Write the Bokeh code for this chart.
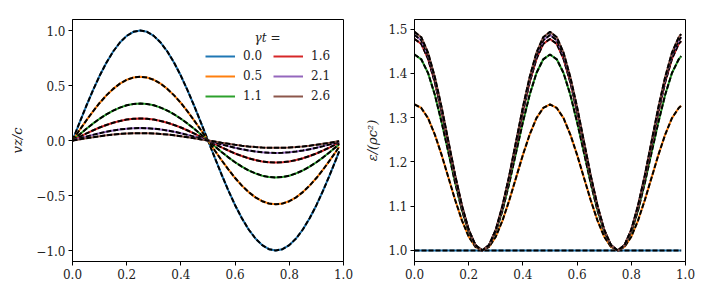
from bokeh.plotting import figure
from bokeh.layouts import row
from bokeh.models import Range1d, FixedTicker, CustomJSTickFormatter, Legend, LegendItem, Label
from bokeh.embed import file_html
from bokeh.resources import INLINE

# ---------------- data ----------------
x = [0.0, 0.025, 0.05, 0.075, 0.1, 0.125, 0.15, 0.175, 0.2, 0.225,
     0.25, 0.275, 0.3, 0.325, 0.35, 0.375, 0.4, 0.425, 0.45, 0.475,
     0.5, 0.525, 0.55, 0.575, 0.6, 0.625, 0.65, 0.675, 0.7, 0.725,
     0.75, 0.775, 0.8, 0.825, 0.85, 0.875, 0.9, 0.925, 0.95, 0.975, 0.984]

gamma_t = ["0.0", "0.5", "1.1", "1.6", "2.1", "2.6"]
colors = ["#1f77b4", "#ff7f0e", "#2ca02c", "#d62728", "#9467bd", "#8c564b"]

v_00 = [0.0, 0.156, 0.309, 0.454, 0.588, 0.707, 0.809, 0.891, 0.951, 0.988,
        1.0, 0.988, 0.951, 0.891, 0.809, 0.707, 0.588, 0.454, 0.309, 0.156,
        0.0, -0.156, -0.309, -0.454, -0.588, -0.707, -0.809, -0.891, -0.951, -0.988,
        -1.0, -0.988, -0.951, -0.891, -0.809, -0.707, -0.588, -0.454, -0.309, -0.156, -0.099]
v_05 = [0.0, 0.091, 0.179, 0.263, 0.341, 0.410, 0.469, 0.517, 0.552, 0.573,
        0.580, 0.573, 0.552, 0.517, 0.469, 0.410, 0.341, 0.263, 0.179, 0.091,
        0.0, -0.091, -0.179, -0.263, -0.341, -0.410, -0.469, -0.517, -0.552, -0.573,
        -0.580, -0.573, -0.552, -0.517, -0.469, -0.410, -0.341, -0.263, -0.179, -0.091, -0.057]
v_11 = [0.0, 0.053, 0.104, 0.153, 0.198, 0.238, 0.272, 0.299, 0.320, 0.332,
        0.336, 0.332, 0.320, 0.299, 0.272, 0.238, 0.198, 0.153, 0.104, 0.053,
        0.0, -0.053, -0.104, -0.153, -0.198, -0.238, -0.272, -0.299, -0.320, -0.332,
        -0.336, -0.332, -0.320, -0.299, -0.272, -0.238, -0.198, -0.153, -0.104, -0.053, -0.033]
v_16 = [0.0, 0.031, 0.062, 0.091, 0.118, 0.141, 0.162, 0.178, 0.190, 0.198,
        0.200, 0.198, 0.190, 0.178, 0.162, 0.141, 0.118, 0.091, 0.062, 0.031,
        0.0, -0.031, -0.062, -0.091, -0.118, -0.141, -0.162, -0.178, -0.190, -0.198,
        -0.200, -0.198, -0.190, -0.178, -0.162, -0.141, -0.118, -0.091, -0.062, -0.031, -0.020]
v_21 = [0.0, 0.018, 0.035, 0.051, 0.066, 0.080, 0.091, 0.101, 0.107, 0.112,
        0.113, 0.112, 0.107, 0.101, 0.091, 0.080, 0.066, 0.051, 0.035, 0.018,
        0.0, -0.018, -0.035, -0.051, -0.066, -0.080, -0.091, -0.101, -0.107, -0.112,
        -0.113, -0.112, -0.107, -0.101, -0.091, -0.080, -0.066, -0.051, -0.035, -0.018, -0.011]
v_26 = [0.0, 0.010, 0.021, 0.030, 0.039, 0.047, 0.054, 0.060, 0.064, 0.066,
        0.067, 0.066, 0.064, 0.060, 0.054, 0.047, 0.039, 0.030, 0.021, 0.010,
        0.0, -0.010, -0.021, -0.030, -0.039, -0.047, -0.054, -0.060, -0.064, -0.066,
        -0.067, -0.066, -0.064, -0.060, -0.054, -0.047, -0.039, -0.030, -0.021, -0.010, -0.007]

e_00 = [1.0, 1.0, 1.0, 1.0, 1.0, 1.0, 1.0, 1.0, 1.0, 1.0,
        1.0, 1.0, 1.0, 1.0, 1.0, 1.0, 1.0, 1.0, 1.0, 1.0,
        1.0, 1.0, 1.0, 1.0, 1.0, 1.0, 1.0, 1.0, 1.0, 1.0,
        1.0, 1.0, 1.0, 1.0, 1.0, 1.0, 1.0, 1.0, 1.0, 1.0, 1.0]
e_05 = [1.330, 1.322, 1.299, 1.262, 1.216, 1.165, 1.114, 1.068, 1.031, 1.008,
        1.000, 1.008, 1.031, 1.068, 1.114, 1.165, 1.216, 1.262, 1.299, 1.322,
        1.330, 1.322, 1.299, 1.262, 1.216, 1.165, 1.114, 1.068, 1.031, 1.008,
        1.000, 1.008, 1.031, 1.068, 1.114, 1.165, 1.216, 1.262, 1.299, 1.322, 1.327]
e_11 = [1.443, 1.432, 1.401, 1.352, 1.290, 1.222, 1.153, 1.091, 1.042, 1.011,
        1.000, 1.011, 1.042, 1.091, 1.153, 1.222, 1.290, 1.352, 1.401, 1.432,
        1.443, 1.432, 1.401, 1.352, 1.290, 1.222, 1.153, 1.091, 1.042, 1.011,
        1.000, 1.011, 1.042, 1.091, 1.153, 1.222, 1.290, 1.352, 1.401, 1.432, 1.439]
e_16 = [1.478, 1.467, 1.433, 1.380, 1.313, 1.239, 1.165, 1.098, 1.045, 1.011,
        1.000, 1.011, 1.045, 1.098, 1.165, 1.239, 1.313, 1.380, 1.433, 1.467,
        1.478, 1.467, 1.433, 1.380, 1.313, 1.239, 1.165, 1.098, 1.045, 1.011,
        1.000, 1.011, 1.045, 1.098, 1.165, 1.239, 1.313, 1.380, 1.433, 1.467, 1.473]
e_21 = [1.487, 1.475, 1.441, 1.387, 1.319, 1.244, 1.168, 1.100, 1.046, 1.012,
        1.000, 1.012, 1.046, 1.100, 1.168, 1.244, 1.319, 1.387, 1.441, 1.475,
        1.487, 1.475, 1.441, 1.387, 1.319, 1.244, 1.168, 1.100, 1.046, 1.012,
        1.000, 1.012, 1.046, 1.100, 1.168, 1.244, 1.319, 1.387, 1.441, 1.475, 1.482]
e_26 = [1.494, 1.482, 1.447, 1.392, 1.324, 1.247, 1.170, 1.102, 1.047, 1.012,
        1.000, 1.012, 1.047, 1.102, 1.170, 1.247, 1.324, 1.392, 1.447, 1.482,
        1.494, 1.482, 1.447, 1.392, 1.324, 1.247, 1.170, 1.102, 1.047, 1.012,
        1.000, 1.012, 1.047, 1.102, 1.170, 1.247, 1.324, 1.392, 1.447, 1.482, 1.489]

v_series = [v_00, v_05, v_11, v_16, v_21, v_26]
e_series = [e_00, e_05, e_11, e_16, e_21, e_26]

x_ticks = [0.0, 0.2, 0.4, 0.6, 0.8, 1.0]
v_ticks = [-1.0, -0.5, 0.0, 0.5, 1.0]
e_ticks = [1.0, 1.1, 1.2, 1.3, 1.4, 1.5]

legend_title = "\u03b3t ="

FONT = "DejaVu Serif"
FS = "12px"

fmt = CustomJSTickFormatter(code="return tick.toFixed(1).replace('-', '\u2212');")


def style(p, xt, yt):
    p.xgrid.visible = False
    p.ygrid.visible = False
    p.outline_line_color = "black"
    p.outline_line_width = 1
    p.outline_line_alpha = 1
    for ax, ticks in ((p.xaxis[0], xt), (p.yaxis[0], yt)):
        ax.ticker = FixedTicker(ticks=ticks)
        ax.formatter = fmt
        ax.major_tick_in = 0
        ax.major_tick_out = 4
        ax.minor_tick_line_color = None
        ax.axis_line_color = "black"
        ax.major_tick_line_color = "black"
        ax.major_label_text_font = FONT
        ax.major_label_text_font_size = FS
        ax.major_label_text_color = "#222222"
        ax.major_label_standoff = 3
        ax.axis_label_text_font = FONT
        ax.axis_label_text_font_size = "13px"
        ax.axis_label_text_font_style = "italic"
        ax.axis_label_text_color = "#222222"


# ---------------- left panel ----------------
p1 = figure(width=360, height=283, output_backend="svg", toolbar_location=None,
            x_range=Range1d(0, 1), y_range=Range1d(-1.1, 1.1),
            min_border_left=72, min_border_right=17, min_border_top=19, min_border_bottom=22)
style(p1, x_ticks, v_ticks)
p1.yaxis.axis_label = "vz/c"
p1.yaxis.axis_label_standoff = 8

items = []
for lab, col, v in zip(gamma_t, colors, v_series):
    r = p1.line(x, v, line_color=col, line_width=2)
    p1.line(x, v, line_color="black", line_width=2, line_dash="5 2")
    items.append(LegendItem(label=lab, renderers=[r]))

leg = Legend(items=items, ncols=2, location=(129, 153),
             label_text_font=FONT, label_text_font_size=FS, label_text_color="#222222",
             glyph_width=30, glyph_height=14, label_standoff=8, spacing=4,
             padding=4, margin=0, background_fill_alpha=0, border_line_alpha=0,
             label_height=16, label_width=26)
p1.add_layout(leg)

title_lbl = Label(x=195, y=224, x_units="screen", y_units="screen", text=legend_title,
                  text_font=FONT, text_font_size=FS, text_font_style="italic",
                  text_color="#222222", text_align="center", text_baseline="middle")
p1.add_layout(title_lbl)

# ---------------- right panel ----------------
p2 = figure(width=348, height=283, output_backend="svg", toolbar_location=None,
            x_range=Range1d(0, 1), y_range=Range1d(0.975, 1.522),
            min_border_left=54, min_border_right=23, min_border_top=19, min_border_bottom=22)
style(p2, x_ticks, e_ticks)
p2.yaxis.axis_label = "\u03b5/(\u03c1c\u00b2)"
p2.yaxis.axis_label_standoff = 5

for col, e in zip(colors, e_series):
    p2.line(x, e, line_color=col, line_width=2)
    p2.line(x, e, line_color="black", line_width=2, line_dash="5 2")

layout = row(p1, p2)
open("out.html", "w").write(file_html(layout, INLINE))
